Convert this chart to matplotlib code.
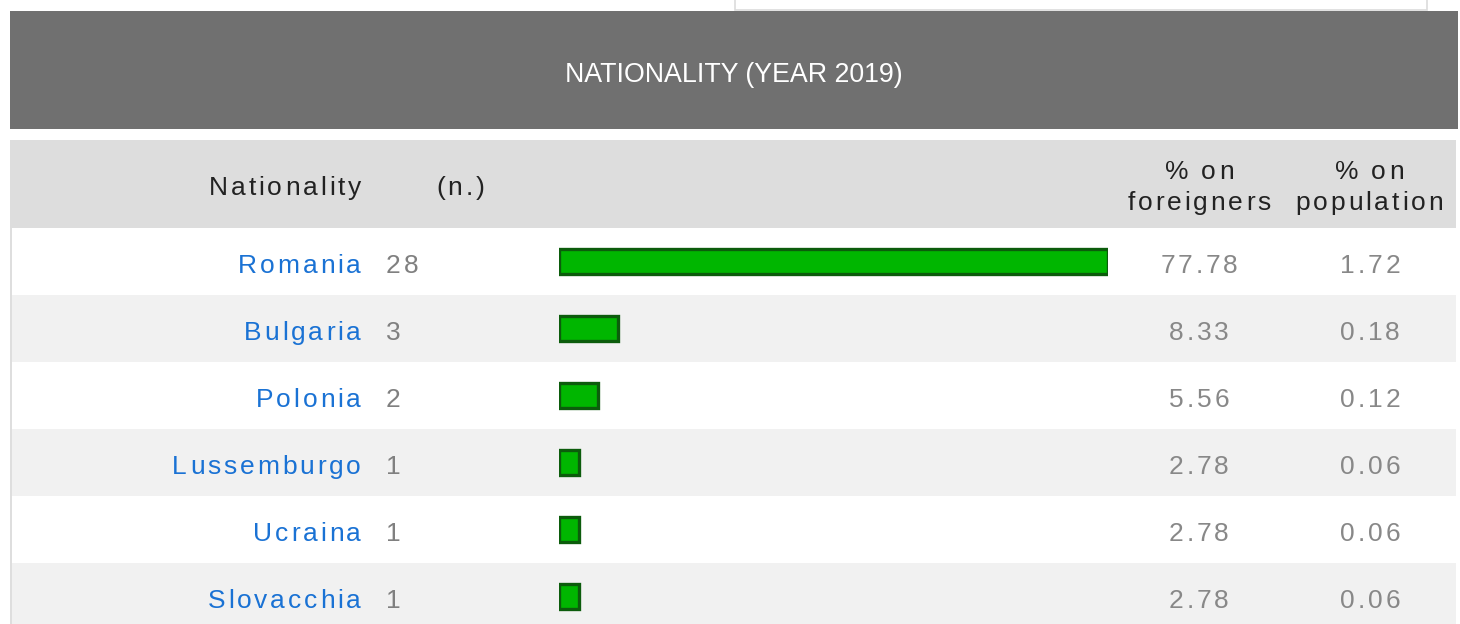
import matplotlib
matplotlib.use("Agg")
import matplotlib.pyplot as plt
from matplotlib.patches import Rectangle
from matplotlib.font_manager import FontProperties, findfont, get_font

countries = ["Romania", "Bulgaria", "Polonia", "Lussemburgo", "Ucraina", "Slovacchia"]
counts = [28, 3, 2, 1, 1, 1]
pct_foreigners = [77.78, 8.33, 5.56, 2.78, 2.78, 2.78]
pct_population = [1.72, 0.18, 0.12, 0.06, 0.06, 0.06]
title = "NATIONALITY (YEAR 2019)"

W, H = 1460, 624
DPI = 100
FONT = "Liberation Sans"
BODY = 19
TRACK = 2.9
ROW_TOP = 228
ROW_H = 67

fig = plt.figure(figsize=(W / DPI, H / DPI), dpi=DPI)
fig.patch.set_facecolor("white")

# background axes in pixel coordinates (y down)
bg = fig.add_axes([0, 0, 1, 1])
bg.set_xlim(0, W)
bg.set_ylim(H, 0)
bg.axis("off")


def advances(s, size):
    f = get_font(findfont(FontProperties(family=FONT)))
    f.set_size(size, DPI)
    return [f.load_char(ord(c)).linearHoriAdvance / 65536 for c in s]


def spaced(x, y, s, ha="left", size=BODY, track=TRACK, color="#222222"):
    adv = advances(s, size)
    total = sum(adv) + track * (len(s) - 1)
    if ha == "right":
        x = x - total
    elif ha == "center":
        x = x - total / 2
    for c, a in zip(s, adv):
        bg.text(x, y, c, ha="left", va="baseline", fontsize=size,
                family=FONT, color=color)
        x += a + track


# top box (cut off)
bg.add_patch(Rectangle((735, -5), 692, 15, facecolor="white",
                       edgecolor="#dcdcdc", lw=1.2))

# title band
bg.add_patch(Rectangle((10, 11), 1448, 118, facecolor="#707070", edgecolor="none"))
bg.text(734, 75, title, ha="center", va="center", fontsize=19.3,
        family=FONT, color="white")

# table header
bg.add_patch(Rectangle((10, 140), 1446, ROW_TOP - 140, facecolor="#dddddd",
                       edgecolor="none"))
bg.add_patch(Rectangle((10, ROW_TOP), 2, H - ROW_TOP, facecolor="#dedede",
                       edgecolor="none"))
for i in range(len(countries)):
    col = "white" if i % 2 == 0 else "#f1f1f1"
    bg.add_patch(Rectangle((12, ROW_TOP + i * ROW_H), 1444, ROW_H,
                           facecolor=col, edgecolor="none"))

spaced(361, 195, "Nationality", ha="right")
spaced(436, 195, "(n.)")
spaced(1199, 179, "% on", ha="center")
spaced(1199, 210, "foreigners", ha="center")
spaced(1369, 179, "% on", ha="center")
spaced(1369, 210, "population", ha="center")

for i, name in enumerate(countries):
    yb = ROW_TOP + i * ROW_H + ROW_H / 2 + 11.5
    spaced(361, yb, name, ha="right", color="#1a72d4")
    spaced(386, yb, str(counts[i]), color="#808080")
    spaced(1199, yb, f"{pct_foreigners[i]:.2f}", ha="center", color="#888888")
    spaced(1370, yb, f"{pct_population[i]:.2f}", ha="center", color="#888888")

# bars
n = len(countries)
x0, x1 = 559, 1108
y_bot = ROW_TOP + n * ROW_H
ax = fig.add_axes([x0 / W, 1 - y_bot / H, (x1 - x0) / W, n * ROW_H / H])
ax.barh(range(n), counts, height=0.36, left=0, color="#00b600",
        edgecolor="#0c5c0c", linewidth=2.4)
ax.set_xlim(0, max(counts))
ax.set_ylim(n - 0.5, -0.5)
ax.axis("off")
ax.patch.set_alpha(0)

fig.savefig("out.png", dpi=DPI)
